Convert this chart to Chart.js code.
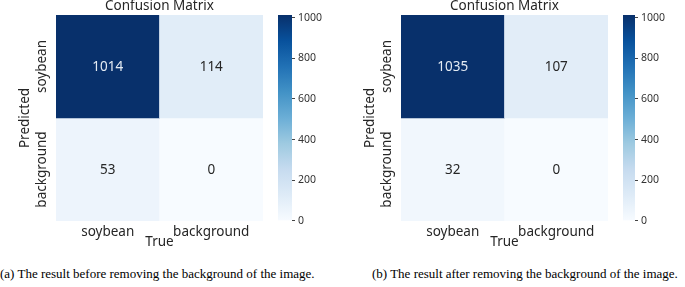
<!DOCTYPE html>
<html><head><meta charset="utf-8">
<script src="https://cdn.jsdelivr.net/npm/chart.js@4.4.1/dist/chart.umd.min.js"></script>
<style>
html,body{margin:0;padding:0;background:#fff;}
body{width:685px;height:287px;overflow:hidden;position:relative;}
.box{position:absolute;}
.cap{position:absolute;top:266px;font-family:"Liberation Serif","Times New Roman",serif;font-size:13px;color:#000;white-space:nowrap;line-height:15px;}
</style></head><body>
<div class="box" style="left:0;top:0;width:270px;height:252px"><canvas id="hmA"></canvas></div>
<div class="box" style="left:270px;top:0;width:72px;height:230px"><canvas id="cbA"></canvas></div>
<div class="box" style="left:345px;top:0;width:270px;height:252px"><canvas id="hmB"></canvas></div>
<div class="box" style="left:615px;top:0;width:70px;height:230px"><canvas id="cbB"></canvas></div>
<div class="cap" style="left:0px">(a) The result before removing the background of the image.</div>
<div class="cap" style="left:372px">(b) The result after removing the background of the image.</div>
<script>
// ---- data ----
const categories = ['soybean', 'background'];          // True (columns) and Predicted (rows)
const beforeSoybeanRow = [1014, 114];                   // Predicted soybean
const beforeBackgroundRow = [53, 0];                    // Predicted background
const afterSoybeanRow = [1035, 107];
const afterBackgroundRow = [32, 0];
const colorbarTicks = [0, 200, 400, 600, 800, 1000];
const colorbarMaxBefore = 1014;
const colorbarMaxAfter = 1014;

// ---- style ----
const FONT = '"Noto Sans", "DejaVu Sans", sans-serif';
const TEXT = '#262626';
const BLUES = ['#f7fbff','#deebf7','#c6dbef','#9ecae1','#6baed6','#4292c6','#2171b5','#08519c','#08306b'];

function hexToRgb(h){return [parseInt(h.substr(1,2),16),parseInt(h.substr(3,2),16),parseInt(h.substr(5,2),16)];}
function blues(t){
  t = Math.max(0, Math.min(1, t));
  const p = t*(BLUES.length-1), i = Math.min(Math.floor(p), BLUES.length-2), f = p - i;
  const a = hexToRgb(BLUES[i]), b = hexToRgb(BLUES[i+1]);
  const c = a.map((v,k)=>Math.round(v+(b[k]-v)*f));
  return 'rgb('+c.join(',')+')';
}

const cellLabels = {
  id: 'cellLabels',
  afterDatasetsDraw(chart, args, opts) {
    const ctx = chart.ctx;
    ctx.save();
    ctx.font = '13.5px ' + FONT;
    ctx.textAlign = 'center';
    ctx.textBaseline = 'middle';
    chart.data.datasets.forEach((ds, di) => {
      chart.getDatasetMeta(di).data.forEach((el, i) => {
        const v = ds.values[i];
        ctx.fillStyle = v / opts.vmax > 0.6 ? '#e4ebf3' : TEXT;
        ctx.fillText(String(v), el.x, (el.y + el.base) / 2 + 1);
      });
    });
    // y tick labels (rotated) and chart title
    const y = chart.scales.y, area = chart.chartArea;
    ctx.fillStyle = TEXT;
    ctx.font = '13.5px ' + FONT;
    categories.forEach((c, i) => {
      const py = y.getPixelForValue(categories.length - 1 - i + 0.5);
      ctx.save();
      ctx.translate(42, py);
      ctx.rotate(-Math.PI / 2);
      ctx.fillText(c, 0, 0);
      ctx.restore();
    });
    ctx.textBaseline = 'alphabetic';
    ctx.fillText('Confusion Matrix', (area.left + area.right) / 2, 10);
    ctx.restore();
  }
};

function heatmap(id, topRow, bottomRow, vmax) {
  const rows = [topRow, bottomRow];
  const n = categories.length;
  new Chart(document.getElementById(id), {
    type: 'bar',
    data: {
      labels: categories,
      datasets: rows.map((row, r) => ({
        label: categories[r],
        values: row,
        data: row.map(() => [n - 1 - r, n - r]),
        backgroundColor: row.map(v => blues(v / vmax)),
        borderWidth: 0,
        grouped: false,
        barPercentage: 1,
        categoryPercentage: 1
      }))
    },
    options: {
      responsive: true, maintainAspectRatio: false, animation: false,
      layout: { padding: { top: 15, right: 7, left: 0, bottom: 0 } },
      plugins: { legend: { display: false }, tooltip: { enabled: false }, cellLabels: { vmax } },
      scales: {
        x: {
          grid: { display: false, drawTicks: false }, border: { display: false },
          ticks: { font: { family: FONT, size: 13.5 }, color: TEXT, padding: 3 },
          title: { display: true, text: 'True', font: { family: FONT, size: 13.5 }, color: TEXT, padding: { top: 0, bottom: 2 } },
          afterFit: s => { s.height = 31; }
        },
        y: {
          min: 0, max: n,
          grid: { display: false, drawTicks: false }, border: { display: false },
          ticks: { display: false },
          title: { display: true, text: 'Predicted', font: { family: FONT, size: 13.5 }, color: TEXT, padding: { top: 17, bottom: 0 } },
          afterFit: s => { s.width = 56; }
        }
      }
    },
    plugins: [cellLabels]
  });
}

function colorbar(id, vmax) {
  new Chart(document.getElementById(id), {
    type: 'bar',
    data: {
      labels: [''],
      datasets: [{
        data: [[0, vmax]],
        borderWidth: 0, barPercentage: 1, categoryPercentage: 1,
        backgroundColor: (c) => {
          const ch = c.chart, a = ch.chartArea;
          if (!a) return BLUES[4];
          const y = ch.scales.y;
          const g = ch.ctx.createLinearGradient(0, y.getPixelForValue(0), 0, y.getPixelForValue(vmax));
          BLUES.forEach((col, i) => g.addColorStop(i / (BLUES.length - 1), col));
          return g;
        }
      }]
    },
    options: {
      responsive: true, maintainAspectRatio: false, animation: false,
      layout: { padding: { top: 15, left: 8, bottom: 9, right: 0 } },
      plugins: { legend: { display: false }, tooltip: { enabled: false } },
      scales: {
        x: { display: false },
        y: {
          position: 'right', min: 0, max: vmax,
          afterBuildTicks: s => { s.ticks = colorbarTicks.map(v => ({ value: v })); },
          grid: { display: true, drawOnChartArea: false, drawTicks: true, tickLength: 3, color: '#444' },
          border: { display: false },
          ticks: { font: { family: FONT, size: 10.5 }, color: '#333', padding: 3, callback: v => String(v) },
          afterFit: s => { s.width = 50; }
        }
      }
    }
  });
}

heatmap('hmA', beforeSoybeanRow, beforeBackgroundRow, colorbarMaxBefore);
colorbar('cbA', colorbarMaxBefore);
heatmap('hmB', afterSoybeanRow, afterBackgroundRow, colorbarMaxAfter);
colorbar('cbB', colorbarMaxAfter);
</script>
</body></html>
